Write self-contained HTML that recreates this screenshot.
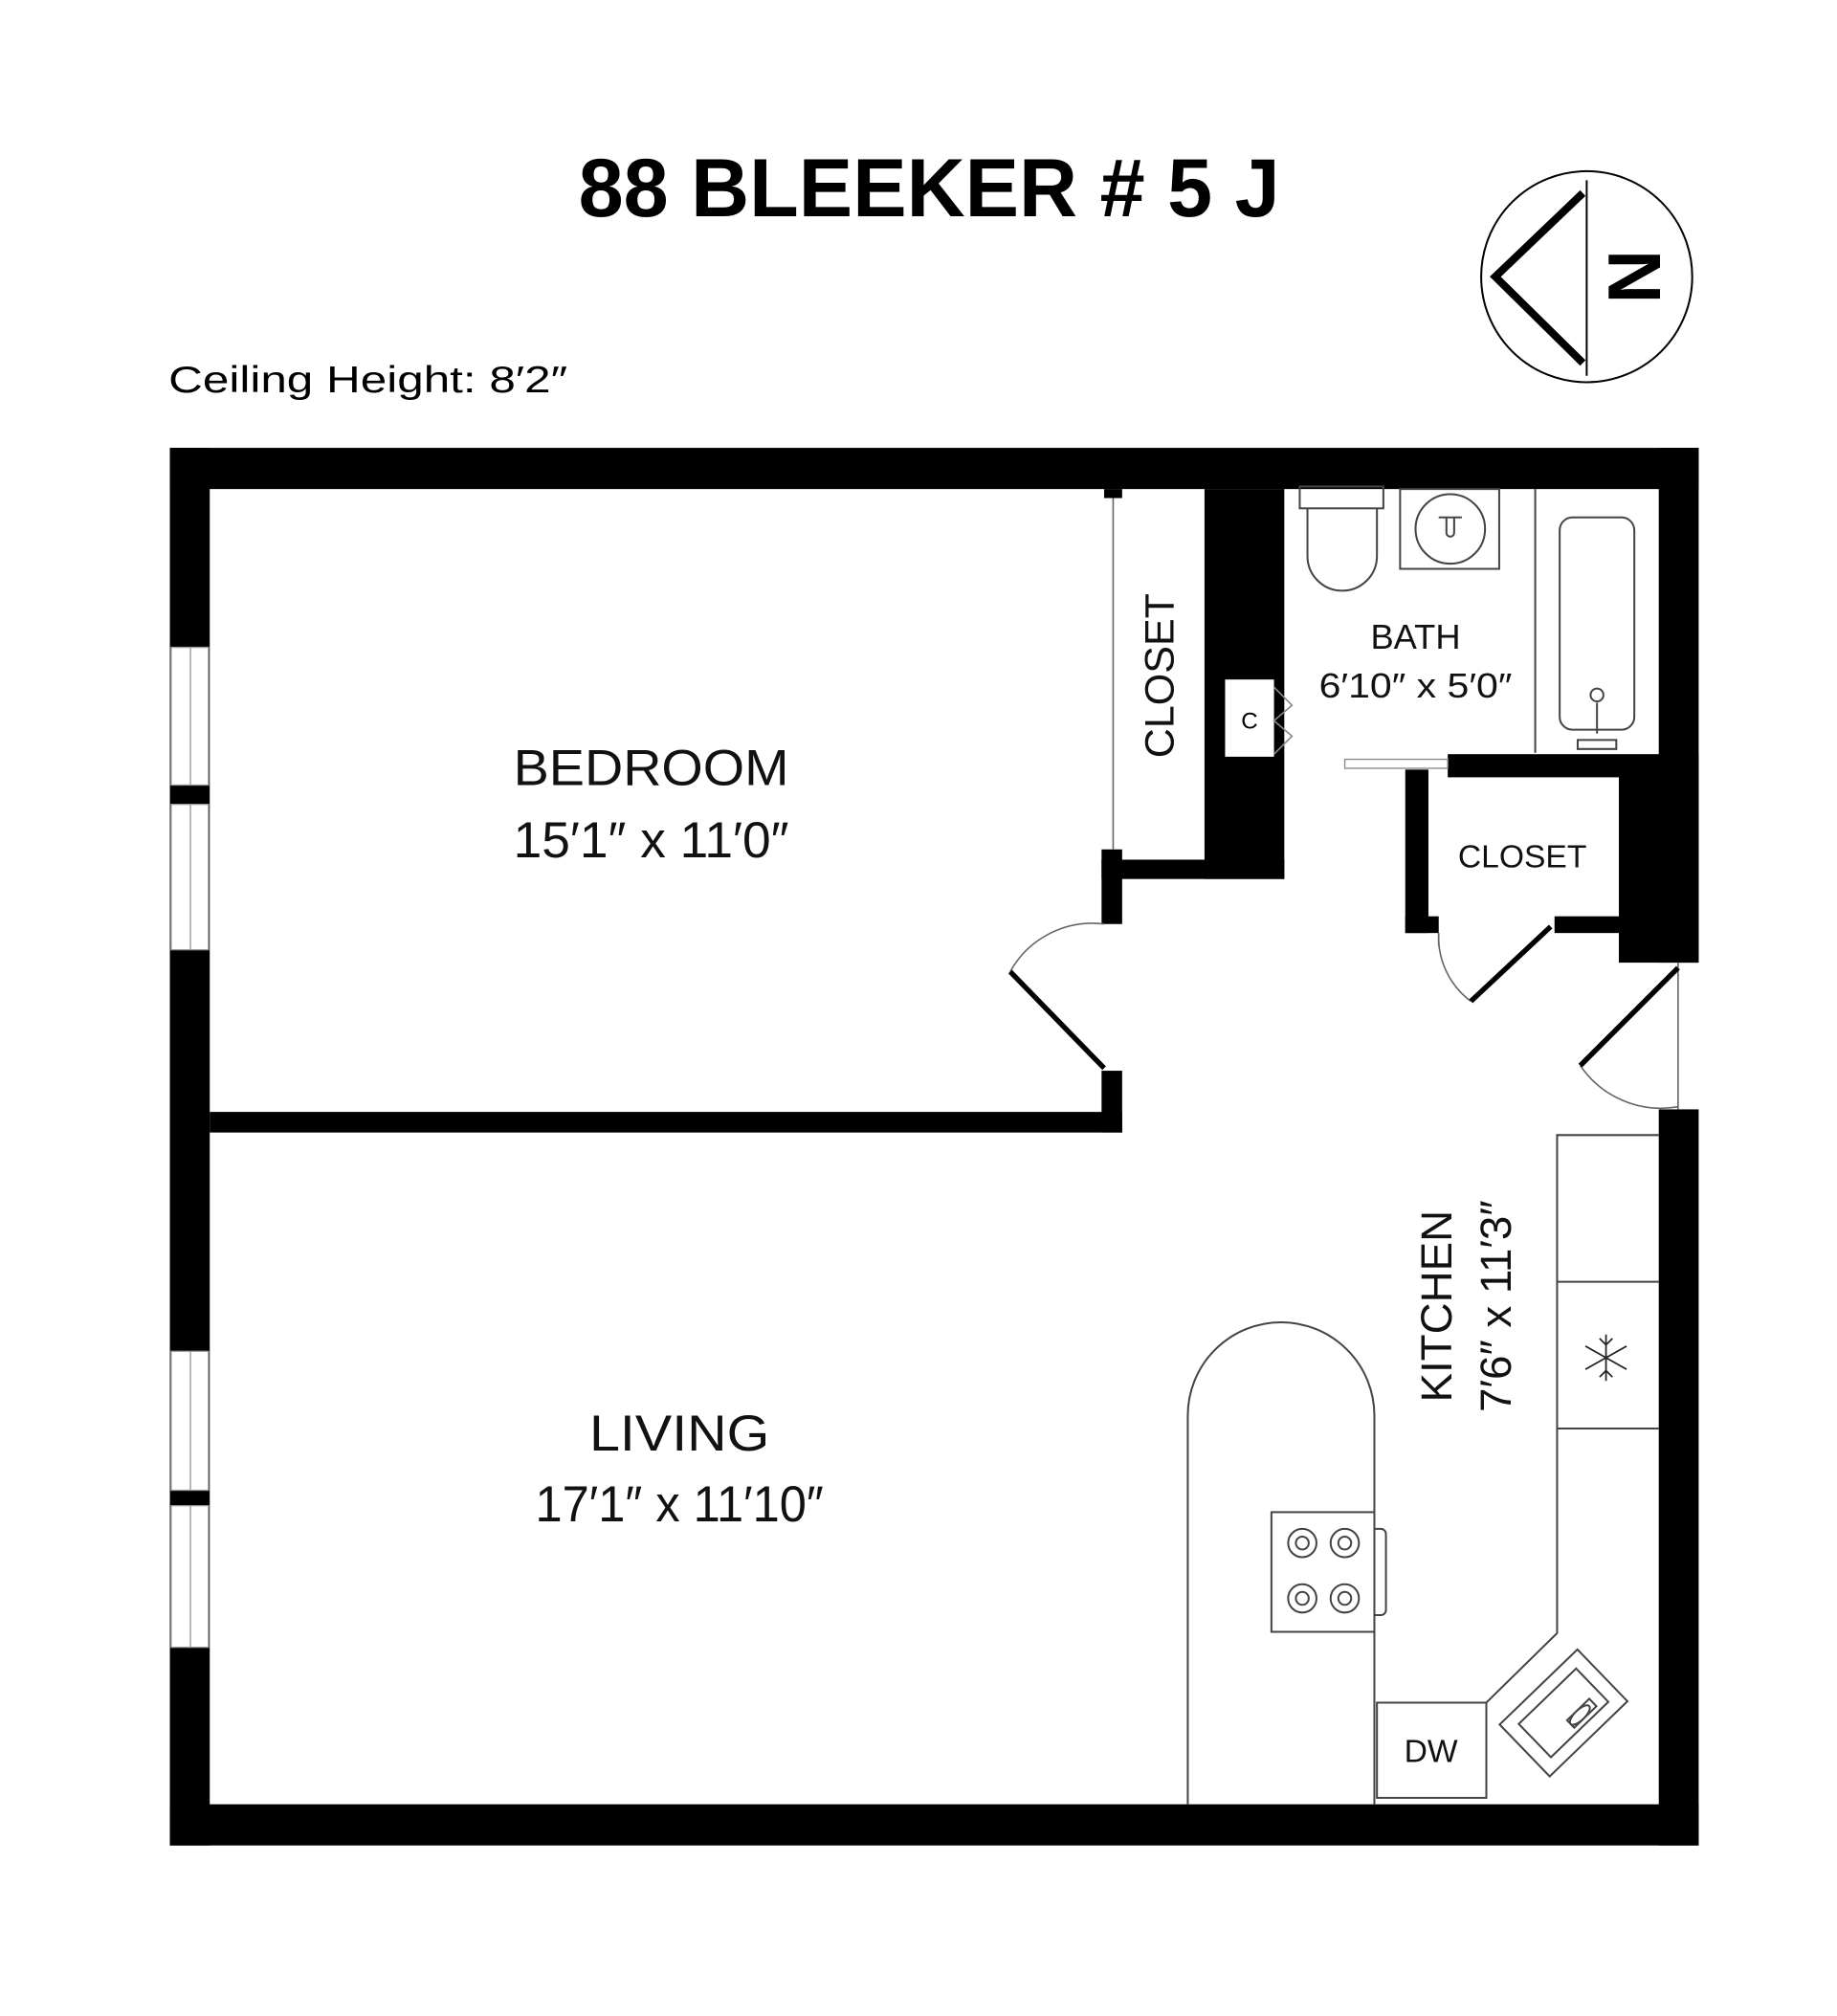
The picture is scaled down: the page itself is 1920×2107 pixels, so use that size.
<!DOCTYPE html>
<html><head><meta charset="utf-8"><style>html,body{margin:0;padding:0;background:#fff}svg{display:block}</style></head>
<body>
<svg width="1920" height="2107" viewBox="0 0 1427.5 1566.5" xmlns="http://www.w3.org/2000/svg" font-family="Liberation Sans, sans-serif">
<rect width="1427.5" height="1566.5" fill="#fff"/>
<text x="722" y="168" text-anchor="middle" font-size="64" font-weight="bold" textLength="545" lengthAdjust="spacingAndGlyphs">88 BLEEKER # 5 J</text>
<text x="131" y="305" font-size="29" textLength="310" lengthAdjust="spacingAndGlyphs">Ceiling Height: 8′2″</text>
<!-- compass -->
<circle cx="1233" cy="215" r="82" fill="none" stroke="#000" stroke-width="1.5"/>
<polyline points="1230,150 1162,215 1230,282" fill="none" stroke="#000" stroke-width="6" stroke-linejoin="miter"/>
<line x1="1233" y1="140" x2="1233" y2="292" stroke="#000" stroke-width="1.5"/>
<text x="0" y="0" font-size="58" font-weight="bold" text-anchor="middle" transform="translate(1290,215) rotate(-90)">N</text>
<!-- outer walls -->
<g fill="#000">
<rect x="132" y="348" width="1188" height="32"/>
<rect x="132" y="348" width="31" height="1086"/>
<rect x="132" y="1402" width="1188" height="32"/>
<rect x="1289" y="348" width="31" height="400"/>
<rect x="1289" y="862" width="31" height="572"/>
<rect x="163" y="864" width="709" height="16"/>
<rect x="856" y="832" width="16" height="48"/>
<rect x="856" y="660" width="16" height="58"/>
<rect x="856" y="668" width="142" height="15"/>
<rect x="936" y="380" width="62" height="303"/>
<rect x="858" y="380" width="14" height="7"/>
<rect x="1125" y="586" width="195" height="18"/>
<rect x="1092" y="598" width="18" height="127"/>
<rect x="1092" y="712" width="26" height="13"/>
<rect x="1208" y="712" width="81" height="13"/>
<rect x="1258" y="598" width="62" height="150"/>
</g>
<rect x="952" y="528" width="38" height="60" fill="#fff"/>
<text x="971" y="566" font-size="18" text-anchor="middle">C</text>
<polyline points="990,534 1004,548 990,560 1004,572 990,586" fill="none" stroke="#888" stroke-width="1.2"/>
<g fill="#fff" stroke="#999" stroke-width="1">
<rect x="133" y="503" width="29" height="107"/><rect x="133" y="625" width="29" height="113"/>
<rect x="133" y="1050" width="29" height="108"/><rect x="133" y="1170" width="29" height="110"/>
</g>
<g stroke="#999" stroke-width="1">
<line x1="148" y1="503" x2="148" y2="610"/><line x1="148" y1="625" x2="148" y2="738"/>
<line x1="148" y1="1050" x2="148" y2="1158"/><line x1="148" y1="1170" x2="148" y2="1280"/>
</g>
<g stroke="#666" stroke-width="1.2" fill="none">
<line x1="865" y1="387" x2="865" y2="660"/>
<line x1="1304" y1="748" x2="1304" y2="862"/>
<path d="M785,755 A73,73 0 0 1 858,718"/>
<path d="M1228,828 A76,76 0 0 0 1304,860"/>
<path d="M1118,725 A62,62 0 0 0 1143,778"/>
<line x1="1118" y1="725" x2="1118" y2="735"/>
</g>
<rect x="1045" y="590" width="80" height="7" fill="#fff" stroke="#888" stroke-width="1"/>
<g stroke="#000" stroke-width="4">
<line x1="858" y1="830" x2="785" y2="755"/>
<line x1="1304" y1="752" x2="1228" y2="828"/>
<line x1="1205" y1="720" x2="1143" y2="778"/>
</g>
<g stroke="#444" stroke-width="1.5" fill="none">
<rect x="1010" y="378" width="65" height="17"/>
<path d="M1016,395 V432 A27,27 0 0 0 1070,432 V395"/>
<rect x="1088" y="380" width="77" height="62"/>
<circle cx="1127" cy="411" r="27"/>
<path d="M1118,402 H1136 M1124,402 V414 A3,3 0 0 0 1130,414 V402"/>
<line x1="1193" y1="380" x2="1193" y2="585"/>
<rect x="1212" y="402" width="58" height="165" rx="10"/>
<circle cx="1241" cy="540" r="5"/>
<path d="M1241,546 V570 M1226,575 H1256 V582 H1226 Z"/>
</g>
<g stroke="#444" stroke-width="1.5" fill="none">
<path d="M1289,882 H1210 V1269 L1155,1323 H1070 V1397 H1155 V1323"/>
<line x1="1210" y1="996" x2="1289" y2="996"/>
<line x1="1210" y1="1110" x2="1289" y2="1110"/>
<path d="M923,1402 V1100 A72.5,72.5 0 0 1 1068,1100 V1402"/>
<rect x="988" y="1175" width="80" height="93" fill="#fff"/>
<path d="M1068,1188 H1073 A4,4 0 0 1 1077,1192 V1251 A4,4 0 0 1 1073,1255 H1068"/>
<circle cx="1012" cy="1199" r="11"/><circle cx="1012" cy="1199" r="5"/>
<circle cx="1045" cy="1199" r="11"/><circle cx="1045" cy="1199" r="5"/>
<circle cx="1012" cy="1242" r="11"/><circle cx="1012" cy="1242" r="5"/>
<circle cx="1045" cy="1242" r="11"/><circle cx="1045" cy="1242" r="5"/>
<g transform="translate(1215,1331) rotate(-44)">
<rect x="-42" y="-28" width="84" height="56"/>
<rect x="-31" y="-18" width="62" height="36"/>
<ellipse cx="8" cy="10" rx="4" ry="10" transform="rotate(90 8 10)"/>
<rect x="-2" y="6" width="24" height="8"/>
</g>
</g>
<g stroke="#222" stroke-width="1.3" transform="translate(1248,1055)">
<line x1="0" y1="-18" x2="0" y2="18"/><line x1="-16" y1="-9" x2="16" y2="9"/><line x1="-16" y1="9" x2="16" y2="-9"/>
<path d="M-5,-15 L0,-10 L5,-15 M-5,15 L0,10 L5,15" fill="none"/>
</g>
<g font-size="39" text-anchor="middle" fill="#111">
<text x="506" y="610" textLength="214" lengthAdjust="spacingAndGlyphs">BEDROOM</text>
<text x="506" y="666" textLength="214" lengthAdjust="spacingAndGlyphs">15′1″ x 11′0″</text>
<text x="528" y="1127" textLength="140" lengthAdjust="spacingAndGlyphs">LIVING</text>
<text x="528" y="1182" textLength="224" lengthAdjust="spacingAndGlyphs">17′1″ x 11′10″</text>
</g>
<g font-size="27" text-anchor="middle" fill="#111">
<text x="1100" y="504">BATH</text>
<text x="1100" y="542" textLength="150" lengthAdjust="spacingAndGlyphs">6′10″ x 5′0″</text>
<text x="1183" y="674" font-size="25">CLOSET</text>
<text x="1112" y="1369" font-size="25">DW</text>
<text x="0" y="0" font-size="32" transform="translate(912,525) rotate(-90)">CLOSET</text>
<text x="0" y="0" font-size="34" transform="translate(1128,1015) rotate(-90)">KITCHEN</text>
<text x="0" y="0" font-size="34" transform="translate(1174,1015) rotate(-90)">7′6″ x 11′3″</text>
</g>
</svg>
</body></html>
